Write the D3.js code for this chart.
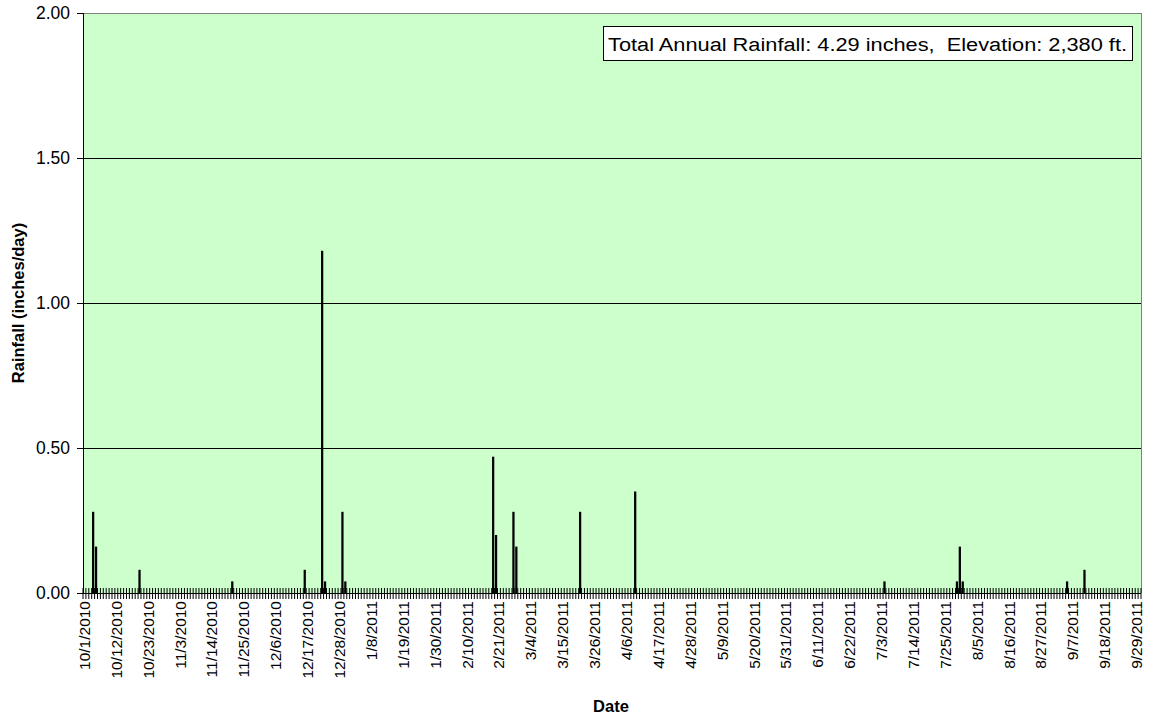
<!DOCTYPE html>
<html>
<head>
<meta charset="utf-8">
<script src="https://cdn.jsdelivr.net/npm/d3@7"></script>
<style>
  body { margin: 0; background: #fff; }
  text { font-family: "Liberation Sans", Arial, sans-serif; }
</style>
</head>
<body>
<svg class="rain" width="1149" height="719"></svg>
<script>
// rainy days (everything else is 0.00)
const rainDates = ["2010-10-04", "2010-10-05", "2010-10-20", "2010-11-21", "2010-12-16",
  "2010-12-22", "2010-12-23", "2010-12-29", "2010-12-30", "2011-02-19", "2011-02-20",
  "2011-02-26", "2011-02-27", "2011-03-21", "2011-04-09", "2011-07-04", "2011-07-29",
  "2011-07-30", "2011-07-31", "2011-09-05", "2011-09-11"]
const rainValues = [0.28, 0.16, 0.08, 0.04, 0.08,
  1.18, 0.04, 0.28, 0.04, 0.47, 0.20,
  0.28, 0.16, 0.28, 0.35, 0.04, 0.04,
  0.16, 0.04, 0.04, 0.08]
const yTicks = [0, 0.5, 1.0, 1.5, 2.0]
const xTickLabels = ["10/1/2010", "10/12/2010", "10/23/2010", "11/3/2010", "11/14/2010",
  "11/25/2010", "12/6/2010", "12/17/2010", "12/28/2010", "1/8/2011", "1/19/2011",
  "1/30/2011", "2/10/2011", "2/21/2011", "3/4/2011", "3/15/2011", "3/26/2011",
  "4/6/2011", "4/17/2011", "4/28/2011", "5/9/2011", "5/20/2011", "5/31/2011",
  "6/11/2011", "6/22/2011", "7/3/2011", "7/14/2011", "7/25/2011", "8/5/2011",
  "8/16/2011", "8/27/2011", "9/7/2011", "9/18/2011", "9/29/2011"]

const fmtDay = d3.timeFormat("%-m/%-d/%Y")
const parseDay = d3.timeParse("%Y-%m-%d")
// one category per day of the water year
const days = d3.timeDay.range(new Date(2010, 9, 1), new Date(2011, 9, 1)).map(fmtDay)
const rainByDay = new Map(rainDates.map((d, i) => [fmtDay(parseDay(d)), rainValues[i]]))

const plotL = 83, plotR = 1141, plotT = 13, plotB = 593

const svg = d3.select("svg.rain")

const x = d3.scaleBand()
  .domain(days)
  .range([plotL, plotR])
  .paddingInner(0.22)
  .paddingOuter(0.11)

const xEdge = d3.scaleBand().domain(days).range([plotL, plotR])

const y = d3.scaleLinear()
  .domain([0, 2])
  .range([plotB, plotT])

// plot area
svg.append("rect")
  .attr("x", plotL).attr("y", plotT)
  .attr("width", plotR - plotL).attr("height", plotB - plotT)
  .attr("fill", "#ccffcc")

// gridlines
svg.append("g")
  .selectAll("line")
  .data(yTicks.filter(d => d > 0 && d < 2))
  .enter()
  .append("line")
  .attr("x1", plotL).attr("x2", plotR)
  .attr("y1", d => y(d)).attr("y2", d => y(d))
  .attr("stroke", "#000").attr("stroke-width", 1)
  .attr("shape-rendering", "crispEdges")

// top / right border
svg.append("path")
  .attr("d", `M${plotL},${plotT}H${plotR}V${plotB}`)
  .attr("fill", "none").attr("stroke", "#808080")
  .attr("shape-rendering", "crispEdges")

// bars
svg.append("g")
  .selectAll("rect")
  .data(days.filter(d => rainByDay.has(d)))
  .enter()
  .append("rect")
  .attr("x", d => x(d))
  .attr("width", x.bandwidth())
  .attr("y", d => y(rainByDay.get(d)))
  .attr("height", d => plotB - y(rainByDay.get(d)))
  .attr("fill", "#000")

// daily tick marks crossing the axis
svg.append("g")
  .selectAll("line")
  .data(days.concat(["end"]))
  .enter()
  .append("line")
  .attr("x1", (d, i) => plotL + i * xEdge.step())
  .attr("x2", (d, i) => plotL + i * xEdge.step())
  .attr("y1", plotB - 5).attr("y2", plotB + 6)
  .attr("stroke", "#000").attr("stroke-width", 1)

// x axis line
svg.append("line")
  .attr("x1", plotL).attr("x2", plotR)
  .attr("y1", plotB).attr("y2", plotB)
  .attr("stroke", "#000")
  .attr("shape-rendering", "crispEdges")

// x labels
svg.append("g")
  .selectAll("text")
  .data(xTickLabels)
  .enter()
  .append("text")
  .attr("transform", d => `translate(${xEdge(d) + xEdge.bandwidth() / 2 + 5.5},${plotB + 8}) rotate(-90)`)
  .attr("text-anchor", "end")
  .attr("font-size", 15.5)
  .attr("fill", "#000")
  .text(d => d)

// y axis
const yAxis = svg.append("g")
  .attr("transform", `translate(${plotL},0)`)
  .call(d3.axisLeft(y).tickValues(yTicks).tickFormat(d3.format(".2f")).tickSize(6).tickPadding(7))
yAxis.select(".domain").attr("stroke", "#000").attr("shape-rendering", "crispEdges")
yAxis.selectAll(".tick line").attr("stroke", "#000")
yAxis.selectAll("text")
  .attr("font-size", 17.5)
  .attr("font-family", "Liberation Sans, Arial, sans-serif")
  .attr("fill", "#000")

// axis titles
svg.append("text")
  .attr("transform", "translate(24,303) rotate(-90)")
  .attr("text-anchor", "middle")
  .attr("font-size", 16.5).attr("font-weight", "bold")
  .text("Rainfall (inches/day)")

svg.append("text")
  .attr("x", 611).attr("y", 712)
  .attr("text-anchor", "middle")
  .attr("font-size", 16.5).attr("font-weight", "bold")
  .text("Date")

// annotation box
svg.append("rect")
  .attr("x", 603.5).attr("y", 26.5)
  .attr("width", 529).attr("height", 34)
  .attr("fill", "#fff").attr("stroke", "#000")

svg.append("text")
  .attr("x", 608).attr("y", 51)
  .attr("font-family", "DejaVu Sans, sans-serif")
  .attr("font-size", 18)
  .attr("textLength", 519)
  .attr("lengthAdjust", "spacingAndGlyphs")
  .attr("xml:space", "preserve")
  .text("Total Annual Rainfall: 4.29 inches,  Elevation: 2,380 ft.")
</script>
</body>
</html>
